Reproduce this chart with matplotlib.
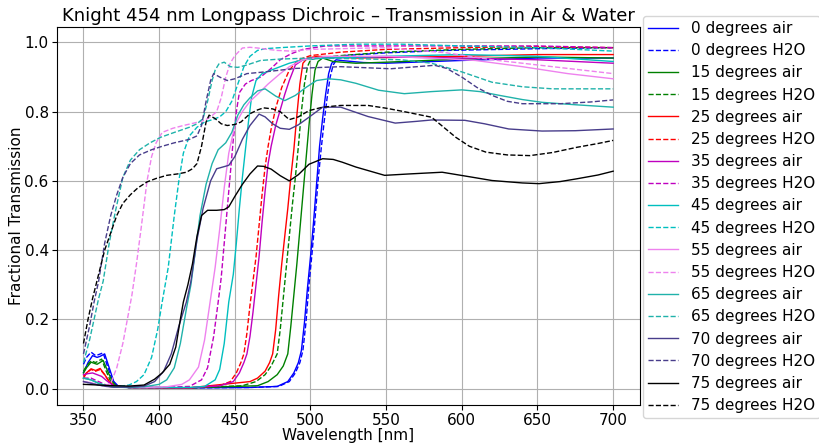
import matplotlib
matplotlib.use("Agg")
import matplotlib.pyplot as plt

# Transmission curves, wavelength [nm] and fractional transmission per angle/medium
wl_0_air = [350, 353, 356, 359, 361, 364, 367, 370, 373, 380, 420, 460, 478, 485, 489, 492, 494, 496, 498, 500,
            502, 504, 506, 508, 510, 512, 514, 517, 520, 535, 550, 600, 650, 700]
t_0_air = [0.046, 0.075, 0.095, 0.09, 0.093, 0.1, 0.06, 0.02, 0.007, 0.003, 0.002, 0.003, 0.006, 0.02, 0.045, 0.075,
           0.11, 0.19, 0.29, 0.38, 0.48, 0.59, 0.7, 0.78, 0.85, 0.91, 0.94, 0.95, 0.948, 0.942, 0.94, 0.948, 0.955, 0.955]

wl_0_h2o = [350, 352, 355, 358, 360, 363, 366, 369, 372, 380, 420, 460, 479, 486, 490, 493, 495, 497, 499, 501,
            503, 505, 507, 509, 511, 513, 515, 518, 522, 550, 590, 650, 700]
t_0_h2o = [0.07, 0.09, 0.105, 0.095, 0.098, 0.103, 0.062, 0.025, 0.008, 0.003, 0.002, 0.003, 0.006, 0.02, 0.045, 0.075,
           0.11, 0.19, 0.3, 0.39, 0.49, 0.6, 0.69, 0.77, 0.84, 0.9, 0.935, 0.955, 0.962, 0.97, 0.977, 0.982, 0.985]

wl_15_air = [350, 352, 355, 359, 363, 366, 369, 372, 380, 420, 465, 472, 478, 482, 485, 487, 489, 491, 493, 495,
             497, 499, 501, 503, 505, 508, 515, 530, 550, 600, 650, 700]
t_15_air = [0.045, 0.06, 0.076, 0.07, 0.081, 0.05, 0.02, 0.006, 0.003, 0.002, 0.008, 0.02, 0.04, 0.065, 0.1, 0.18,
            0.27, 0.36, 0.46, 0.56, 0.66, 0.76, 0.85, 0.92, 0.945, 0.955, 0.945, 0.94, 0.943, 0.952, 0.958, 0.955]

wl_15_h2o = [350, 352, 355, 358, 362, 365, 368, 371, 380, 420, 455, 464, 470, 474, 478, 480, 482, 484, 486, 488,
             490, 492, 494, 496, 498, 500, 504, 520, 550, 600, 650, 700]
t_15_h2o = [0.05, 0.065, 0.08, 0.075, 0.085, 0.05, 0.02, 0.006, 0.003, 0.002, 0.008, 0.02, 0.04, 0.065, 0.1, 0.17,
            0.26, 0.35, 0.44, 0.53, 0.61, 0.7, 0.8, 0.88, 0.93, 0.95, 0.955, 0.962, 0.972, 0.98, 0.985, 0.985]

wl_25_air = [350, 352, 355, 358, 361, 364, 367, 370, 380, 420, 460, 465, 470, 473, 475, 477, 479, 481, 483, 485,
             487, 489, 491, 493, 495, 498, 505, 530, 600, 650, 700]
t_25_air = [0.03, 0.045, 0.057, 0.052, 0.058, 0.04, 0.02, 0.008, 0.003, 0.002, 0.02, 0.03, 0.05, 0.075, 0.1, 0.17,
            0.27, 0.36, 0.44, 0.52, 0.61, 0.69, 0.79, 0.88, 0.94, 0.955, 0.96, 0.955, 0.96, 0.965, 0.965]

wl_25_h2o = [350, 352, 355, 358, 361, 364, 367, 370, 380, 420, 440, 447, 451, 454, 456, 458, 460, 462, 464, 466,
             468, 470, 472, 474, 477, 481, 486, 492, 500, 520, 550, 600, 650, 700]
t_25_h2o = [0.035, 0.045, 0.055, 0.05, 0.055, 0.04, 0.02, 0.008, 0.003, 0.002, 0.008, 0.02, 0.045, 0.075, 0.1, 0.16,
            0.24, 0.31, 0.38, 0.47, 0.56, 0.64, 0.7, 0.75, 0.81, 0.87, 0.92, 0.95, 0.962, 0.972, 0.98, 0.985, 0.988,
            0.985]

wl_35_air = [350, 353, 356, 359, 362, 366, 370, 380, 420, 440, 449, 453, 456, 458, 460, 462, 464, 466, 468, 470,
             472, 474, 477, 480, 483, 486, 490, 495, 500, 550, 600, 650, 700]
t_35_air = [0.04, 0.043, 0.045, 0.04, 0.035, 0.02, 0.008, 0.003, 0.002, 0.008, 0.02, 0.045, 0.075, 0.1, 0.15, 0.22,
            0.3, 0.38, 0.48, 0.57, 0.65, 0.7, 0.76, 0.805, 0.85, 0.89, 0.935, 0.95, 0.955, 0.958, 0.955, 0.95, 0.94]

wl_35_h2o = [350, 355, 360, 365, 370, 380, 400, 420, 428, 432, 436, 439, 441, 443, 445, 447, 449, 451, 453, 457,
             461, 467, 474, 480, 487, 495, 510, 550, 600, 650, 700]
t_35_h2o = [0.03, 0.03, 0.02, 0.01, 0.005, 0.003, 0.003, 0.006, 0.025, 0.06, 0.15, 0.25, 0.32, 0.42, 0.52, 0.62,
            0.72, 0.8, 0.855, 0.88, 0.89, 0.9, 0.925, 0.95, 0.967, 0.98, 0.99, 0.99, 0.99, 0.99, 0.985]

wl_45_air = [350, 355, 360, 365, 370, 380, 400, 420, 430, 437, 440, 443, 446, 449, 451, 453, 455, 457, 459, 461,
             464, 468, 474, 480, 486, 495, 510, 550, 600, 650, 700]
t_45_air = [0.03, 0.025, 0.015, 0.008, 0.004, 0.003, 0.003, 0.003, 0.006, 0.025, 0.055, 0.13, 0.25, 0.33, 0.42,
            0.52, 0.61, 0.69, 0.77, 0.84, 0.89, 0.91, 0.92, 0.93, 0.94, 0.95, 0.955, 0.96, 0.965, 0.96, 0.945]

wl_45_h2o = [350, 355, 360, 365, 370, 375, 380, 385, 390, 395, 399, 402, 406, 410, 413, 416, 420, 425, 430, 436,
             440, 444, 448, 452, 456, 460, 465, 470, 480, 500, 530, 560, 600, 650, 700]
t_45_h2o = [0.02, 0.015, 0.01, 0.007, 0.006, 0.007, 0.01, 0.02, 0.04, 0.09, 0.17, 0.25, 0.35, 0.5, 0.6, 0.68,
            0.73, 0.755, 0.77, 0.778, 0.785, 0.8, 0.83, 0.88, 0.93, 0.96, 0.977, 0.982, 0.985, 0.99, 0.995, 0.995,
            0.99, 0.985, 0.975]

wl_55_air = [350, 355, 360, 370, 390, 405, 415, 420, 426, 430, 434, 437, 440, 443, 446, 450, 455, 460, 465, 472,
             480, 486, 495, 510, 550, 580, 609, 640, 670, 700]
t_55_air = [0.02, 0.017, 0.01, 0.004, 0.003, 0.005, 0.012, 0.025, 0.062, 0.14, 0.26, 0.35, 0.46, 0.58, 0.68, 0.76,
            0.8, 0.83, 0.85, 0.88, 0.91, 0.93, 0.95, 0.96, 0.96, 0.955, 0.948, 0.93, 0.91, 0.895]

wl_55_h2o = [350, 355, 360, 364, 368, 372, 376, 379, 382, 385, 388, 392, 395, 398, 402, 409, 416, 423, 430, 434,
             438, 441, 444, 447, 450, 455, 460, 465, 472, 478, 487, 500, 550, 590, 620, 650, 680, 700]
t_55_h2o = [0.02, 0.015, 0.01, 0.008, 0.015, 0.06, 0.13, 0.2, 0.27, 0.36, 0.46, 0.6, 0.67, 0.71, 0.74, 0.752, 0.76,
            0.767, 0.775, 0.785, 0.8, 0.84, 0.9, 0.94, 0.962, 0.984, 0.986, 0.984, 0.98, 0.977, 0.975, 0.98, 0.985,
            0.97, 0.95, 0.935, 0.92, 0.91]

wl_65_air = [350, 355, 360, 365, 370, 380, 390, 400, 405, 410, 414, 418, 421, 424, 427, 431, 435, 439, 444, 448,
             452, 456, 460, 465, 470, 477, 483, 490, 497, 504, 512, 520, 530, 545, 562, 580, 600, 612, 625, 640,
             653, 675, 700]
t_65_air = [0.03, 0.025, 0.015, 0.008, 0.004, 0.003, 0.005, 0.012, 0.025, 0.06, 0.13, 0.23, 0.3, 0.4, 0.5, 0.59,
            0.65, 0.69, 0.71, 0.74, 0.79, 0.82, 0.84, 0.86, 0.866, 0.845, 0.832, 0.847, 0.87, 0.89, 0.895, 0.892,
            0.882, 0.862, 0.852, 0.858, 0.863, 0.858, 0.847, 0.835, 0.827, 0.82, 0.813]

wl_65_h2o = [350, 354, 357, 360, 363, 367, 371, 376, 381, 387, 394, 401, 410, 420, 425, 429, 432, 435, 437, 439.5,
             443, 447, 452, 458, 467, 480, 500, 530, 560, 580, 600, 620, 640, 660, 700]
t_65_h2o = [0.075, 0.14, 0.2, 0.26, 0.31, 0.42, 0.51, 0.61, 0.66, 0.69, 0.71, 0.726, 0.74, 0.755, 0.765, 0.78,
            0.83, 0.89, 0.92, 0.938, 0.943, 0.93, 0.928, 0.935, 0.948, 0.952, 0.955, 0.953, 0.95, 0.94, 0.915,
            0.885, 0.872, 0.866, 0.866]

wl_70_air = [350, 355, 360, 365, 370, 380, 390, 397, 403, 408, 413, 418, 421, 425, 429, 434, 438, 442, 446, 450,
             455, 460, 466, 470, 475, 480, 486, 492, 499, 508, 520, 538, 556, 570, 580, 602, 615, 631, 653, 675, 700]
t_70_air = [0.02, 0.015, 0.01, 0.006, 0.004, 0.004, 0.007, 0.02, 0.05, 0.1, 0.18, 0.25, 0.31, 0.43, 0.52, 0.6,
            0.635, 0.64, 0.645, 0.67, 0.72, 0.76, 0.793, 0.785, 0.765, 0.752, 0.749, 0.762, 0.784, 0.813, 0.813,
            0.786, 0.767, 0.772, 0.776, 0.775, 0.765, 0.75, 0.744, 0.745, 0.75]

wl_70_h2o = [350, 354, 357, 360, 364, 368, 372, 376, 381, 387, 395, 402, 410, 420, 425, 428, 431, 434, 436, 440,
             445, 450, 458, 470, 490, 520, 553, 582, 590, 600, 610, 620, 630, 640, 665, 685, 700]
t_70_h2o = [0.1, 0.18, 0.25, 0.31, 0.42, 0.5, 0.56, 0.61, 0.65, 0.675, 0.69, 0.7, 0.71, 0.72, 0.73, 0.76, 0.83,
            0.89, 0.91, 0.9, 0.89, 0.895, 0.91, 0.915, 0.925, 0.93, 0.924, 0.934, 0.925, 0.9, 0.87, 0.847, 0.83,
            0.823, 0.823, 0.828, 0.834]

wl_75_air = [350, 360, 370, 380, 390, 397, 402, 407, 411, 414, 416, 419, 422, 425, 428, 432, 438, 443, 446, 450,
             455, 460, 465, 469, 474, 480, 486, 492, 499, 508, 515, 521, 530, 549, 565, 587, 605, 620, 640, 651,
             665, 676, 690, 700]
t_75_air = [0.012, 0.01, 0.008, 0.007, 0.01, 0.027, 0.045, 0.07, 0.12, 0.2, 0.25, 0.3, 0.36, 0.44, 0.5, 0.515,
            0.515, 0.517, 0.525, 0.555, 0.59, 0.62, 0.643, 0.642, 0.634, 0.615, 0.6, 0.618, 0.648, 0.664, 0.662,
            0.654, 0.64, 0.616, 0.62, 0.625, 0.612, 0.601, 0.594, 0.592, 0.598, 0.606, 0.617, 0.628]

wl_75_h2o = [350, 353, 356, 360, 364, 368, 372, 376, 381, 386, 392, 398, 405, 412, 418, 422, 425, 428, 431, 433,
             437, 441, 445, 450, 454, 460, 465, 469, 475, 480, 486, 492, 499, 508, 520, 538, 550, 562, 580, 596,
             605, 616, 630, 645, 660, 676, 690, 700]
t_75_h2o = [0.13, 0.2, 0.26, 0.33, 0.4, 0.45, 0.5, 0.535, 0.56, 0.58, 0.597, 0.607, 0.616, 0.62, 0.625, 0.635,
            0.65, 0.7, 0.77, 0.79, 0.78, 0.765, 0.76, 0.763, 0.77, 0.794, 0.805, 0.811, 0.808, 0.8, 0.777, 0.785,
            0.803, 0.813, 0.818, 0.818, 0.81, 0.8, 0.784, 0.726, 0.7, 0.683, 0.675, 0.673, 0.682, 0.697, 0.708,
            0.717]

angles = [0, 15, 25, 35, 45, 55, 65, 70, 75]
colors = ['b', 'g', 'r', 'm', 'c', 'violet', 'lightseagreen', 'darkslateblue', 'k']
air_curves = [(wl_0_air, t_0_air), (wl_15_air, t_15_air), (wl_25_air, t_25_air), (wl_35_air, t_35_air),
              (wl_45_air, t_45_air), (wl_55_air, t_55_air), (wl_65_air, t_65_air), (wl_70_air, t_70_air),
              (wl_75_air, t_75_air)]
h2o_curves = [(wl_0_h2o, t_0_h2o), (wl_15_h2o, t_15_h2o), (wl_25_h2o, t_25_h2o), (wl_35_h2o, t_35_h2o),
              (wl_45_h2o, t_45_h2o), (wl_55_h2o, t_55_h2o), (wl_65_h2o, t_65_h2o), (wl_70_h2o, t_70_h2o),
              (wl_75_h2o, t_75_h2o)]

fig = plt.figure(figsize=(8.19, 4.45), dpi=100)
ax = fig.add_axes([0.0696, 0.0899, 0.7114, 0.8494])

for ang, col, (wa, ta), (wh, th) in zip(angles, colors, air_curves, h2o_curves):
    ax.plot(wa, ta, color=col, ls='-', lw=1, label=f'{ang} degrees air')
    ax.plot(wh, th, color=col, ls='--', lw=1, label=f'{ang} degrees H2O')

ax.set_title('Knight 454 nm Longpass Dichroic \u2013 Transmission in Air & Water', fontsize=13.1, pad=4)
ax.set_xlabel('Wavelength [nm]', fontsize=11, labelpad=0)
ax.set_ylabel('Fractional Transmission', fontsize=11, labelpad=0)
ax.tick_params(labelsize=11, pad=2.5)
ax.grid(True)
ax.legend(loc='upper left', bbox_to_anchor=(1.005, 1.03), borderaxespad=0, fontsize=11, labelspacing=0.47,
          borderpad=0.35)

fig.savefig('out.png', dpi=100)
